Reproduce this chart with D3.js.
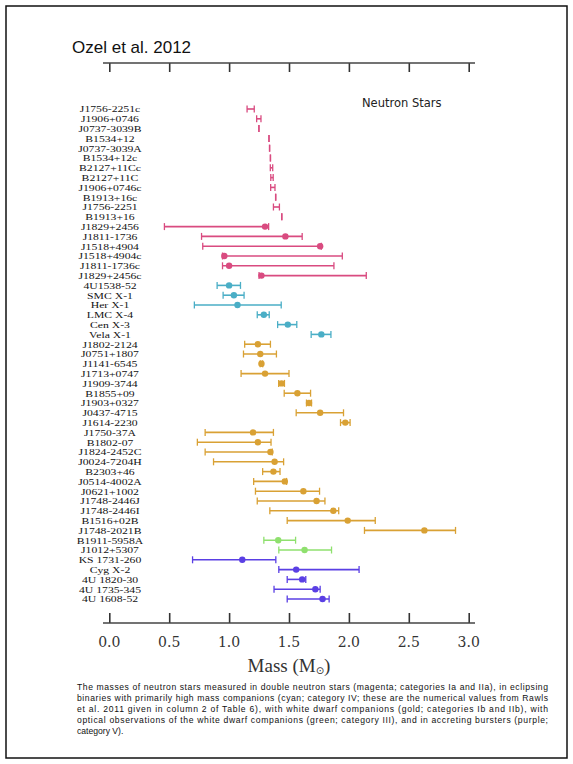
<!DOCTYPE html>
<html>
<head>
<meta charset="utf-8">
<script src="https://cdn.jsdelivr.net/npm/d3@7"></script>
<style>
  body { margin: 0; background: #fff; }
  svg { display: block; }
</style>
</head>
<body>
<div id="chart"></div>
<script>
// Neutron star masses (Ozel et al. 2012)
const names = [
  'J1756-2251c', 'J1906+0746', 'J0737-3039B', 'B1534+12', 'J0737-3039A', 'B1534+12c',
  'B2127+11Cc', 'B2127+11C', 'J1906+0746c', 'B1913+16c', 'J1756-2251', 'B1913+16',
  'J1829+2456', 'J1811-1736', 'J1518+4904', 'J1518+4904c', 'J1811-1736c', 'J1829+2456c',
  '4U1538-52', 'SMC X-1', 'Her X-1', 'LMC X-4', 'Cen X-3', 'Vela X-1',
  'J1802-2124', 'J0751+1807', 'J1141-6545', 'J1713+0747', 'J1909-3744', 'B1855+09',
  'J1903+0327', 'J0437-4715', 'J1614-2230', 'J1750-37A', 'B1802-07', 'J1824-2452C',
  'J0024-7204H', 'B2303+46', 'J0514-4002A', 'J0621+1002', 'J1748-2446J', 'J1748-2446I',
  'B1516+02B', 'J1748-2021B', 'B1911-5958A', 'J1012+5307',
  'KS 1731-260', 'Cyg X-2', '4U 1820-30', '4U 1735-345', '4U 1608-52'
];
const masses = [
  1.18, 1.248, 1.249, 1.333, 1.338, 1.345, 1.354, 1.358, 1.365, 1.389, 1.40, 1.440,
  1.30, 1.47, 1.76, 0.96, 1.00, 1.27,
  1.00, 1.04, 1.07, 1.29, 1.49, 1.77,
  1.24, 1.26, 1.27, 1.30, 1.438, 1.57, 1.667, 1.76, 1.97,
  1.20, 1.24, 1.345, 1.38, 1.37, 1.465, 1.62, 1.73, 1.87, 1.99, 2.63,
  1.41, 1.63,
  1.11, 1.56, 1.61, 1.72, 1.78
];
const lowerBounds = [
  1.15, 1.23, 1.248, 1.332, 1.337, 1.344, 1.344, 1.348, 1.347, 1.388, 1.37, 1.439,
  0.46, 0.77, 0.78, 0.945, 0.945, 1.25,
  0.90, 0.95, 0.71, 1.235, 1.405, 1.685,
  1.13, 1.12, 1.26, 1.10, 1.414, 1.46, 1.646, 1.56, 1.93,
  0.80, 0.735, 0.80, 0.87, 1.28, 1.205, 1.22, 1.235, 1.34, 1.485, 2.13,
  1.29, 1.415,
  0.695, 1.415, 1.485, 1.375, 1.485
];
const upperBounds = [
  1.21, 1.266, 1.250, 1.334, 1.339, 1.346, 1.364, 1.368, 1.383, 1.390, 1.42, 1.441,
  1.33, 1.61, 1.77, 1.945, 1.875, 2.145,
  1.095, 1.125, 1.435, 1.335, 1.565, 1.85,
  1.345, 1.395, 1.28, 1.50, 1.462, 1.68, 1.688, 1.955, 2.01,
  1.37, 1.35, 1.36, 1.455, 1.425, 1.48, 1.755, 1.80, 1.915, 2.22, 2.89,
  1.555, 1.855,
  1.39, 2.085, 1.64, 1.76, 1.835
];
const groups = [
  'dns', 'dns', 'dns', 'dns', 'dns', 'dns', 'dns', 'dns', 'dns', 'dns', 'dns', 'dns',
  'dns', 'dns', 'dns', 'dns', 'dns', 'dns',
  'hmxb', 'hmxb', 'hmxb', 'hmxb', 'hmxb', 'hmxb',
  'wd', 'wd', 'wd', 'wd', 'wd', 'wd', 'wd', 'wd', 'wd',
  'wd', 'wd', 'wd', 'wd', 'wd', 'wd', 'wd', 'wd', 'wd', 'wd', 'wd',
  'opt', 'opt',
  'burst', 'burst', 'burst', 'burst', 'burst'
];
const groupNames = ['dns', 'hmxb', 'wd', 'opt', 'burst'];
const groupColors = ['#d94b80', '#4aaec6', '#d9a134', '#8fe06e', '#5a3fe4'];
const massTicks = [0, 0.5, 1.0, 1.5, 2.0, 2.5, 3.0];

const caption = [
  'The masses of neutron stars measured in double neutron stars (magenta; categories Ia and IIa), in eclipsing',
  'binaries with primarily high mass companions (cyan; category IV; these are the numerical values from Rawls',
  'et al. 2011 given in column 2 of Table 6), with white dwarf companions (gold; categories Ib and IIb), with',
  'optical observations of the white dwarf companions (green; category III), and in accreting bursters (purple;',
  'category V).'
];

const stars = names.map((n, i) => ({
  name: n, mass: masses[i], lo: lowerBounds[i], hi: upperBounds[i], group: groups[i]
}));

const width = 573, height = 764;

const svg = d3.select('#chart').append('svg')
  .attr('width', width)
  .attr('height', height);

// outer frame
svg.append('rect')
  .attr('x', 6).attr('y', 6)
  .attr('width', 561).attr('height', 752)
  .attr('fill', 'none')
  .attr('stroke', '#111')
  .attr('stroke-width', 1.5);

svg.append('text')
  .attr('x', 72).attr('y', 53)
  .style('font-family', '"Liberation Sans", Arial, sans-serif')
  .style('font-size', '17px')
  .attr('fill', '#111')
  .text('Ozel et al. 2012');

const x = d3.scaleLinear().domain([0, 3]).range([109.3, 468.7]);
const y = d3.scalePoint().domain(names).range([109, 599]);
const color = d3.scaleOrdinal().domain(groupNames).range(groupColors);

// top and bottom axes, ticks pointing inwards
const topAxis = svg.append('g')
  .attr('transform', 'translate(0,63)')
  .call(d3.axisBottom(x).tickValues(massTicks).tickSize(9).tickSizeOuter(0).tickFormat(''));
const bottomAxis = svg.append('g')
  .attr('transform', 'translate(0,623)')
  .call(d3.axisTop(x).tickValues(massTicks).tickSize(10).tickSizeOuter(0).tickFormat(''));

[topAxis, bottomAxis].forEach(ax => {
  ax.select('.domain').remove();
  ax.selectAll('.tick line').attr('stroke', '#333').attr('stroke-width', 1.6);
});
[63, 623].forEach(yy => {
  svg.append('line')
    .attr('x1', 103).attr('x2', 475)
    .attr('y1', yy).attr('y2', yy)
    .attr('stroke', '#444')
    .attr('stroke-width', 1.6);
});

svg.append('g').selectAll('text')
  .data(massTicks)
  .join('text')
  .attr('x', d => x(d))
  .attr('y', 647)
  .attr('text-anchor', 'middle')
  .style('font-family', '"DejaVu Serif", serif')
  .style('font-size', '14px')
  .attr('fill', '#333')
  .text(d => d3.format('.1f')(d));

const xTitle = svg.append('text')
  .attr('x', x(1.5))
  .attr('y', 672)
  .attr('text-anchor', 'middle')
  .style('font-family', '"Liberation Serif", "Times New Roman", serif')
  .style('font-size', '19px')
  .attr('fill', '#333');
xTitle.append('tspan').text('Mass (M');
xTitle.append('tspan').attr('dy', 2).style('font-size', '10px')
  .style('font-family', '"DejaVu Sans", sans-serif').text('\u2299');
xTitle.append('tspan').attr('dy', -2).text(')');

svg.append('text')
  .attr('x', 362).attr('y', 107)
  .style('font-family', '"DejaVu Sans", sans-serif')
  .style('font-size', '11.5px')
  .attr('fill', '#222')
  .text('Neutron Stars');

// row labels: tight rows, so a small font stretched sideways
svg.append('g').selectAll('text')
  .data(stars)
  .join('text')
  .attr('transform', d => `translate(110,${y(d.name) + 3.4}) scale(1.36,1)`)
  .attr('text-anchor', 'middle')
  .style('font-family', '"Liberation Serif", "Times New Roman", serif')
  .style('font-size', '8.6px')
  .attr('fill', '#111')
  .text(d => d.name);

// error bars
const bars = svg.append('g').selectAll('g')
  .data(stars)
  .join('g')
  .attr('stroke', d => color(d.group))
  .attr('fill', d => color(d.group));

bars.append('line')
  .attr('x1', d => x(d.lo)).attr('x2', d => x(d.hi))
  .attr('y1', d => y(d.name)).attr('y2', d => y(d.name))
  .attr('stroke-width', 1.6);

bars.selectAll('.cap')
  .data(d => [d.lo, d.hi].map(v => ({ v, name: d.name })))
  .join('line')
  .attr('class', 'cap')
  .attr('x1', d => x(d.v)).attr('x2', d => x(d.v))
  .attr('y1', d => y(d.name) - 3.5).attr('y2', d => y(d.name) + 3.5)
  .attr('stroke-width', 1.3);

// precise double neutron star masses show no visible point
bars.filter(d => !(d.group === 'dns' && d.hi - d.lo < 0.1))
  .append('circle')
  .attr('cx', d => x(d.mass))
  .attr('cy', d => y(d.name))
  .attr('r', 3.2)
  .attr('stroke', 'none');

// caption
svg.append('g').selectAll('text')
  .data(caption)
  .join('text')
  .attr('x', 77)
  .attr('y', (d, i) => 690 + i * 11)
  .style('font-family', '"Liberation Sans", Arial, sans-serif')
  .style('font-size', '8.6px')
  .attr('fill', '#111')
  .each(function (d, i) {
    if (i < caption.length - 1) {
      d3.select(this).attr('textLength', 471).attr('lengthAdjust', 'spacing');
    }
  })
  .text(d => d);
</script>
</body>
</html>
